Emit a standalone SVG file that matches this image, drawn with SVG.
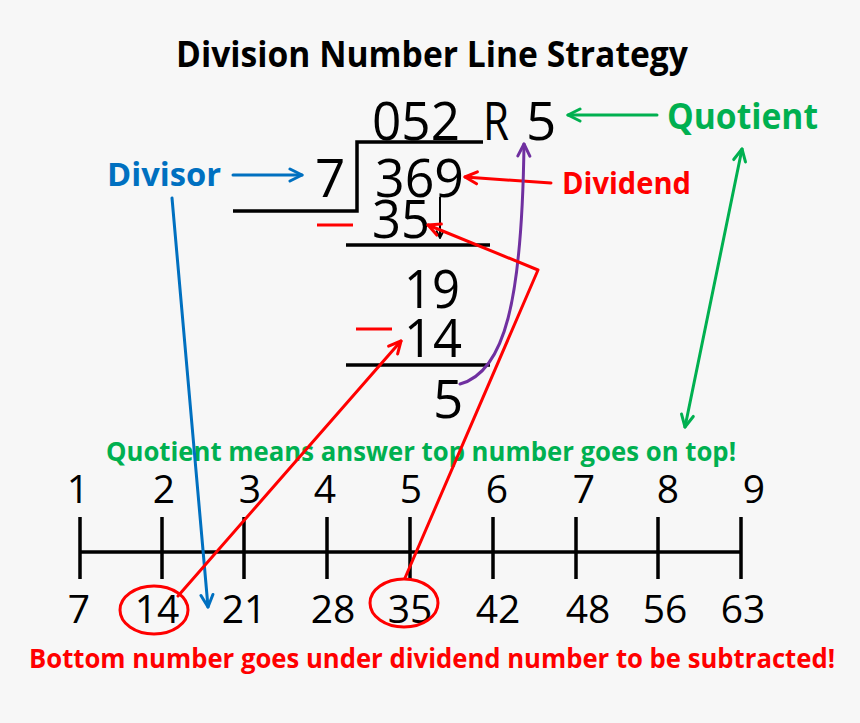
<svg xmlns="http://www.w3.org/2000/svg" width="860" height="723" viewBox="0 0 860 723">
<defs>
<style>
.t{font-family:"Open Sans","Liberation Sans",sans-serif;}
.b{font-family:"Open Sans","Liberation Sans",sans-serif;font-weight:bold;}
.big{font-size:53px;fill:#000;}
.num{font-size:39px;fill:#000;text-anchor:middle;}
.ln{stroke:#000;stroke-width:3.5;fill:none;}
.c{fill:none;stroke-width:3;stroke-linecap:round;stroke-linejoin:round;}
</style>
<marker id="ab" viewBox="0 0 16 16" refX="14" refY="8" markerWidth="16" markerHeight="16" markerUnits="userSpaceOnUse" orient="auto-start-reverse"><path d="M2,2 L14,8 L2,14" fill="none" stroke="#0070c0" stroke-width="3" stroke-linecap="round" stroke-linejoin="round"/></marker>
<marker id="ar" viewBox="0 0 16 16" refX="14" refY="8" markerWidth="16" markerHeight="16" markerUnits="userSpaceOnUse" orient="auto-start-reverse"><path d="M2,2 L14,8 L2,14" fill="none" stroke="#ff0000" stroke-width="3" stroke-linecap="round" stroke-linejoin="round"/></marker>
<marker id="ag" viewBox="0 0 16 16" refX="14" refY="8" markerWidth="16" markerHeight="16" markerUnits="userSpaceOnUse" orient="auto-start-reverse"><path d="M2,2 L14,8 L2,14" fill="none" stroke="#00b050" stroke-width="3" stroke-linecap="round" stroke-linejoin="round"/></marker>
<marker id="ap" viewBox="0 0 16 16" refX="14" refY="8" markerWidth="16" markerHeight="16" markerUnits="userSpaceOnUse" orient="auto-start-reverse"><path d="M2,2 L14,8 L2,14" fill="none" stroke="#7030a0" stroke-width="3" stroke-linecap="round" stroke-linejoin="round"/></marker>
<marker id="ak" viewBox="0 0 16 16" refX="14" refY="8" markerWidth="10" markerHeight="10" markerUnits="userSpaceOnUse" orient="auto"><path d="M2,2 L14,8 L2,14" fill="none" stroke="#000" stroke-width="3"/></marker>
</defs>
<rect width="860" height="723" fill="#f7f7f7"/>

<g id="title"><text class="b" x="176" y="67" font-size="36" fill="#000" textLength="512" lengthAdjust="spacingAndGlyphs">Division Number Line Strategy</text></g>

<g id="division">
<text class="t big" x="372" y="140" textLength="88" lengthAdjust="spacingAndGlyphs">052</text>
<text class="t big" x="483" y="140" textLength="26" lengthAdjust="spacingAndGlyphs">R</text>
<text class="t big" x="526" y="140">5</text>
<text class="t big" x="315" y="197">7</text>
<text class="t big" x="375" y="197" textLength="89" lengthAdjust="spacingAndGlyphs">369</text>
<text class="t big" x="372" y="238" textLength="58" lengthAdjust="spacingAndGlyphs">35</text>
<text class="t big" x="404" y="308" textLength="56" lengthAdjust="spacingAndGlyphs">19</text>
<text class="t big" x="404" y="357" textLength="58" lengthAdjust="spacingAndGlyphs">14</text>
<text class="t big" x="433" y="418">5</text>
<path class="ln" d="M483,142 H357 V211 H233"/>
<line class="ln" x1="346" y1="245" x2="490" y2="245"/>
<line class="ln" x1="346" y1="365" x2="490" y2="365"/>
<line x1="440" y1="197" x2="440" y2="238" stroke="#000" stroke-width="2" marker-end="url(#ak)"/>
<line x1="317" y1="225" x2="353" y2="225" stroke="#ff0000" stroke-width="3"/>
<line x1="356" y1="329" x2="392" y2="329" stroke="#ff0000" stroke-width="3"/>
</g>

<g id="divisor"><text class="b" x="107" y="186" font-size="33" fill="#0070c0" textLength="114" lengthAdjust="spacingAndGlyphs">Divisor</text></g>
<g id="dividend"><text class="b" x="562" y="194" font-size="31" fill="#ff0000" textLength="129" lengthAdjust="spacingAndGlyphs">Dividend</text></g>
<g id="quotient"><text class="b" x="667" y="129" font-size="36" fill="#00b050" textLength="151" lengthAdjust="spacingAndGlyphs">Quotient</text></g>
<g id="quotient-note"><text class="b" x="106" y="461" font-size="27" fill="#00b050" textLength="630" lengthAdjust="spacingAndGlyphs">Quotient means answer top number goes on top!</text></g>
<g id="bottom-note"><text class="b" x="29" y="668" font-size="26" fill="#ff0000" textLength="806" lengthAdjust="spacingAndGlyphs">Bottom number goes under dividend number to be subtracted!</text></g>

<g id="number-line">
<line class="ln" x1="80" y1="552" x2="741" y2="552"/>
<path class="ln" d="M80,517 V579 M162,517 V579 M244,517 V579 M327,517 V579 M410,517 V579 M493,517 V579 M576,517 V579 M658,517 V579 M741,517 V579"/>
<g class="t">
<text class="num" x="78" y="503">1</text>
<text class="num" x="164" y="503">2</text>
<text class="num" x="250" y="503">3</text>
<text class="num" x="325" y="503">4</text>
<text class="num" x="411" y="503">5</text>
<text class="num" x="497" y="503">6</text>
<text class="num" x="584" y="503">7</text>
<text class="num" x="668" y="503">8</text>
<text class="num" x="754" y="503">9</text>
<text class="num" x="79" y="623">7</text>
<text class="num" x="157" y="623">14</text>
<text class="num" x="244" y="623">21</text>
<text class="num" x="333" y="623">28</text>
<text class="num" x="410" y="623">35</text>
<text class="num" x="498" y="623">42</text>
<text class="num" x="588" y="623">48</text>
<text class="num" x="665" y="623">56</text>
<text class="num" x="743" y="623">63</text>
</g>
<ellipse cx="154" cy="610" rx="34" ry="24" fill="none" stroke="#ff0000" stroke-width="3"/>
<ellipse cx="404" cy="603" rx="34" ry="24" fill="none" stroke="#ff0000" stroke-width="3"/>
</g>

<g id="connectors">
<line class="c" x1="233" y1="175" x2="302" y2="175" stroke="#0070c0" marker-end="url(#ab)"/>
<line class="c" x1="172" y1="198" x2="208" y2="607" stroke="#0070c0" marker-end="url(#ab)"/>
<line class="c" x1="551" y1="183" x2="465" y2="177" stroke="#ff0000" marker-end="url(#ar)"/>
<line class="c" x1="657" y1="115" x2="568" y2="115" stroke="#00b050" marker-end="url(#ag)"/>
<line class="c" x1="685" y1="427" x2="742" y2="149" stroke="#00b050" marker-start="url(#ag)" marker-end="url(#ag)"/>
<path class="c" d="M460,384 C505,372 522,300 524,144" stroke="#7030a0" marker-end="url(#ap)"/>
<polyline class="c" points="405,578 538,270 428,225" stroke="#ff0000" marker-end="url(#ar)"/>
<line class="c" x1="178" y1="596" x2="401" y2="341" stroke="#ff0000" marker-end="url(#ar)"/>
</g>
</svg>
